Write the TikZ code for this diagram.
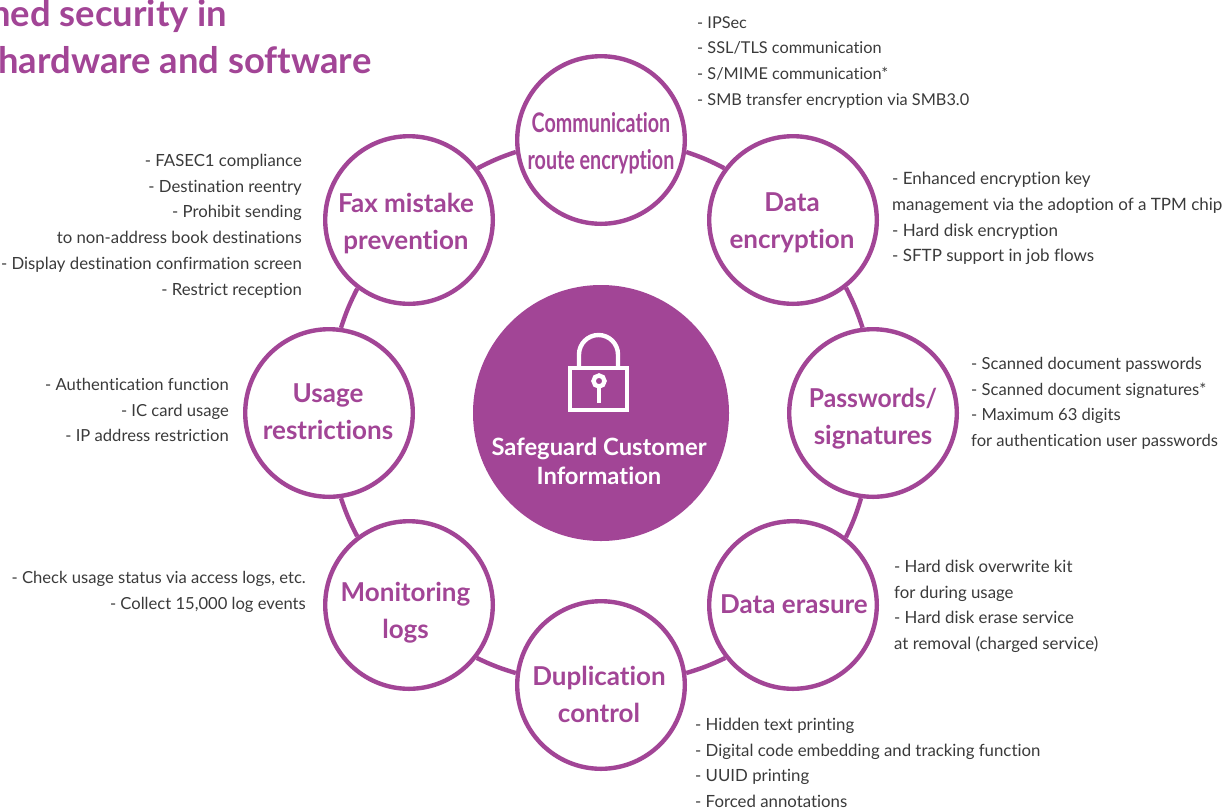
\documentclass[tikz,border=0pt]{standalone}
\usepackage{fontspec}
\setmainfont[Ligatures={NoCommon}]{Lato}
\definecolor{xpurple}{HTML}{A24596}
\definecolor{bodygray}{HTML}{3A3A3A}
\tikzset{
  sat/.style={circle,draw=xpurple,line width=4.4pt,fill=white,minimum size=167.6pt,inner sep=0pt},
  lbl/.style={align=center,inner sep=0pt,text=xpurple,font=\fontsize{26}{37}\selectfont\bfseries},
  link/.style={draw=xpurple,line width=4.4pt},
  lockline/.style={draw=white,line width=4.4pt},
  blockl/.style={anchor=north west,align=left,text=bodygray,inner sep=0pt,font=\fontsize{#1}{25.7}\selectfont},
  blockl/.default=16.6,
  blockr/.style={anchor=north east,align=right,text=bodygray,inner sep=0pt,font=\fontsize{#1}{25.7}\selectfont},
  blockr/.default=16.6,
  ttl/.style={anchor=base west,inner sep=0pt,text=xpurple,font=\fontsize{36.4}{40}\selectfont\bfseries},
}
\newcommand{\narrowline}[1]{\scalebox{.73}[1]{\fontsize{27}{37}\selectfont\bfseries #1}}
\begin{document}
\begin{tikzpicture}[x=1pt,y=-1pt]
\useasboundingbox (0,0) rectangle (1231,807);
\node[circle,fill=xpurple,minimum size=256pt,inner sep=0pt] (hub) at (601,413) {};
\node[ttl] (t1) at (-10,26) {ned security in};
\node[ttl] (t2) at (-2,73) {hardware and software};
% satellites
\node[sat] (comm) at (601,140) {};
\node[sat] (enc) at (793,220) {};
\node[sat] (pwd) at (873,413) {};
\node[sat] (erase) at (793,605) {};
\node[sat] (dup) at (601,685) {};
\node[sat] (mon) at (409,605) {};
\node[sat] (use) at (329,413) {};
\node[sat] (fax) at (409,220) {};
% labels
\node[lbl] (commt) at (601,143.5) {\narrowline{Communication}\\\narrowline{route encryption}};
\node[lbl] (enct) at (792,222.5) {Data\\encryption};
\node[lbl] (pwdt) at (873,419) {\scalebox{.95}[1]{Passwords/}\\signatures};
\node[lbl] (eraset) at (794,604) {Data erasure};
\node[lbl] (dupt) at (599,694) {Duplication\\control};
\node[lbl] (mont) at (405.5,613) {Monitoring\\logs};
\node[lbl] (uset) at (328,411.5) {Usage\\restrictions};
\node[lbl] (faxt) at (406,224) {Fax mistake\\prevention};
% ring links
\draw[link] (comm.-8.7) to[bend left=4.5] (enc.143);
\draw[link] (enc.-52.5) to[bend left=4.5] (pwd.97.4);
\draw[link] (pwd.-98) to[bend left=4.5] (erase.52);
\draw[link] (erase.-142) to[bend left=4.5] (dup.8);
\draw[link] (dup.172) to[bend left=4.5] (mon.-38);
\draw[link] (mon.127.4) to[bend left=4.5] (use.-82);
\draw[link] (use.82) to[bend left=4.5] (fax.-127);
\draw[link] (fax.37) to[bend left=4.5] (comm.188.7);
% lock
\draw[lockline] (570,368) rectangle (627,410);
\draw[lockline] (579,368) -- (579,354.5) arc[start angle=180,end angle=360,radius=19.5] -- (618,368);
\draw[lockline] (599,381) circle[radius=5.5];
\draw[lockline] (599,386.5) -- (599,403);
\node[text=white,align=center,inner sep=0pt,font=\fontsize{23.8}{29}\selectfont\bfseries] (hubtxt) at (599,461) {Safeguard Customer\\Information};
% text blocks
\node[blockl=16.3] (a1) at (697,16) {- IPSec\\- SSL/TLS communication\\- S/MIME communication*\\- SMB transfer encryption via SMB3.0};
\node[blockl=17] (a2) at (892,172) {- Enhanced encryption key\\management via the adoption of a TPM chip\\- Hard disk encryption\\- SFTP support in job flows};
\node[blockl] (a3) at (971,357) {- Scanned document passwords\\- Scanned document signatures*\\- Maximum 63 digits\\for authentication user passwords};
\node[blockl=16.8] (a4) at (894,560) {- Hard disk overwrite kit\\for during usage\\- Hard disk erase service\\at removal (charged service)};
\node[blockl=16.8] (a5) at (695,718) {- Hidden text printing\\- Digital code embedding and tracking function\\- UUID printing\\- Forced annotations};
\node[blockr] (b1) at (306,571) {- Check usage status via access logs, etc.\\- Collect 15,000 log events};
\node[blockr] (b2) at (229,378) {- Authentication function\\- IC card usage\\- IP address restriction};
\node[blockr=16.75] (b3) at (302,154) {- FASEC1 compliance\\- Destination reentry\\- Prohibit sending\\to non-address book destinations\\- Display destination confirmation screen\\- Restrict reception};
\end{tikzpicture}
\end{document}
